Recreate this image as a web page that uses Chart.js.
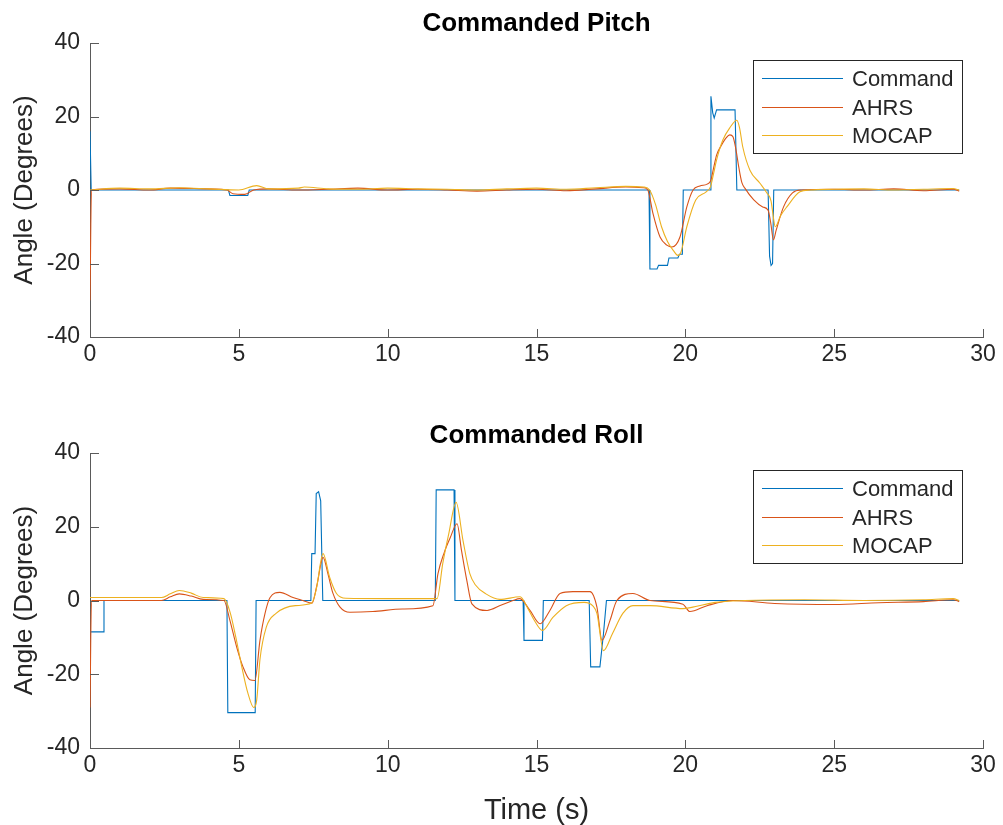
<!DOCTYPE html>
<html>
<head>
<meta charset="utf-8">
<script src="https://cdn.jsdelivr.net/npm/chart.js@4.4.1/dist/chart.umd.min.js"></script>
<style>
  html, body { margin: 0; padding: 0; background: #ffffff; }
  #wrap { position: relative; width: 1003px; height: 825px; background: #ffffff; overflow: hidden; }
  .panel { position: absolute; left: 0; width: 1003px; }
  #p1 { top: 0; height: 400px; }
  #p2 { top: 400px; height: 425px; }
</style>
</head>
<body>
<div id="wrap">
  <div class="panel" id="p1"><canvas id="c1" width="1003" height="400"></canvas></div>
  <div class="panel" id="p2"><canvas id="c2" width="1003" height="425"></canvas></div>
</div>
<script>
// ---------------- Data ----------------
const seriesNames = ['Command', 'AHRS', 'MOCAP'];
const xTicks = [0, 5, 10, 15, 20, 25, 30];
const yTicks = [-40, -20, 0, 20, 40];

// Commanded Pitch
const pitchCmdT = [0, 0.04, 4.65, 4.7, 5.3, 5.35, 18.78, 18.81, 19.05, 19.1, 19.4, 19.45, 19.75, 19.8, 19.9, 19.93, 20.83, 20.86, 20.92, 20.97, 21.05, 21.67, 21.73, 22.78, 22.83, 22.88, 22.93, 22.97, 29.2];
const pitchCmdV = [16, 0, 0, -1.5, -1.5, 0, 0, -21.5, -21.5, -20.5, -20.5, -18.5, -18.5, -17.5, -17.5, 0, 0, 25.5, 21, 19.6, 21.8, 21.8, 0, 0, -18, -20.5, -20, 0, 0];

const pitchAhrsT = [0, 0.05, 1, 2, 2.7, 3.5, 4.6, 4.8, 5.2, 5.5, 6, 7, 8, 9, 10, 11, 12, 13, 14, 15, 16, 17, 18, 18.6, 18.74, 18.91, 19.15, 19.38, 19.55, 19.82, 20.05, 20.26, 20.49, 20.73, 20.85, 20.95, 21.05, 21.2, 21.35, 21.5, 21.6, 21.7, 21.8, 21.9, 22.0, 22.3, 22.6, 22.78, 22.87, 22.96, 23.05, 23.3, 23.6, 23.9, 25, 26, 27, 28, 29, 29.2];
const pitchAhrsV = [-30, 0, 0.3, 0, 0.5, 0.4, 0, -1, -1.2, 0, 0.3, 0, 0.2, 0.5, 0, 0.2, 0, -0.3, 0, 0.2, -0.2, 0.3, 0.8, 0.6, 0, -6.3, -12.8, -15, -15.5, -12.8, -4.6, 0, 1.1, 1.6, 2.5, 6, 9.5, 12, 14, 15, 14.5, 11, 6, 2, 0.5, -2.7, -4.6, -5.5, -9, -13.6, -11, -4.6, -0.8, 0, 0.2, 0, 0.3, -0.2, 0.2, -0.3];

const pitchMocapT = [0, 1, 2, 3, 4, 5, 5.6, 6, 7, 7.2, 8, 9, 10, 11, 12, 13, 14, 15, 16, 17, 18, 18.6, 18.8, 19.0, 19.2, 19.4, 19.6, 19.75, 19.85, 20.05, 20.35, 20.7, 20.85, 20.95, 21.05, 21.26, 21.5, 21.73, 21.82, 21.93, 22.17, 22.5, 22.74, 22.88, 22.95, 23.02, 23.2, 23.41, 23.85, 24.2, 25, 26, 27, 28, 29, 29.2];
const pitchMocapV = [0, 0.5, 0.3, 0.6, 0.3, 0, 1.2, 0.3, 0.5, 0.8, 0.3, 0.2, 0.5, 0.3, 0.2, 0, 0.3, 0.5, 0.2, 0.6, 1, 0.8, 0, -4, -10, -14, -16.5, -17.8, -17, -10, -2.7, -0.5, 1, 4.5, 8.2, 13.6, 17, 19, 17, 11.7, 5.4, 1.9, -0.8, -3, -7, -10, -7, -4.6, -0.5, 0, 0.2, 0.3, 0, 0.2, 0.4, 0];

// Commanded Roll
const rollCmdT = [0, 0.45, 0.47, 4.6, 4.63, 5.55, 5.58, 7.42, 7.45, 7.56, 7.6, 7.68, 7.75, 7.82, 11.6, 11.63, 12.23, 12.26, 14.55, 14.58, 15.2, 15.23, 16.77, 16.82, 17.13, 17.25, 17.35, 29.2];
const rollCmdV = [-8.5, -8.5, 0, 0, -30.4, -30.4, 0, 0, 12.7, 12.7, 29, 29.5, 27, 0, 0, 30, 30, 0, 0, -10.8, -10.8, 0, 0, -18, -18, -9, 0, 0];

const rollAhrsT = [0, 0.05, 1, 2.4, 2.7, 3.0, 3.4, 3.8, 4.5, 4.7, 4.93, 5.14, 5.37, 5.54, 5.71, 5.88, 6.05, 6.38, 6.82, 7.15, 7.46, 7.62, 7.83, 8.0, 8.16, 8.4, 8.73, 9.5, 10.5, 11.52, 11.69, 11.9, 12.1, 12.33, 12.48, 12.66, 12.83, 13.34, 13.8, 14.21, 14.44, 14.78, 15.12, 15.45, 15.79, 16.22, 16.8, 17.03, 17.2, 17.47, 17.7, 18.24, 18.81, 19.92, 20.15, 20.73, 21.6, 23, 25, 26.5, 28, 29, 29.2];
const rollAhrsV = [-29, 0, 0, 0, 1, 1.8, 1.2, 0.3, 0, -5.4, -12.7, -18, -21.5, -21.7, -10.8, -3.5, 0.8, 2.2, 0.8, 0, -0.7, 4, 11.7, 7, 2, -1.8, -3.2, -3, -2.3, -1.4, 7.3, 13, 17, 20.8, 13.6, 5.4, -0.9, -2.7, -1.3, 0, 0.5, -2.7, -6.3, -2.7, 1.9, 2.4, 2.4, -1.8, -10.8, -5.4, 0, 1.9, 0, -1, -3, -1.4, 0, -0.8, -1.1, -0.6, -0.3, 0.2, -0.3];

const rollMocapT = [0, 1, 2.4, 2.7, 3.0, 3.4, 3.8, 4.5, 4.7, 4.9, 5.1, 5.3, 5.5, 5.6, 5.71, 5.92, 6.25, 6.9, 7.45, 7.6, 7.83, 8.05, 8.28, 8.6, 10, 11.5, 11.66, 11.85, 12.05, 12.3, 12.53, 12.76, 12.95, 13.3, 13.77, 14.45, 14.7, 14.9, 15.2, 15.55, 16.0, 16.6, 16.9, 17.03, 17.25, 17.55, 17.9, 18.24, 18.81, 19.92, 20.25, 21.0, 22, 24, 26, 28, 29, 29.2];
const rollMocapV = [0.8, 0.8, 0.8, 1.8, 2.7, 2, 0.8, 0.5, -3, -10, -18, -25, -29, -27, -16, -7.3, -3.5, -1.4, -0.7, 3, 12.7, 6.3, 1.9, 0.6, 0.5, 0.5, 0.5, 10, 18, 26.6, 16.3, 7.3, 4.2, 1.8, 0.3, 1, -2, -5, -8.1, -4.6, -1.4, -0.5, -1.5, -3.5, -13.6, -9, -3.5, -1.4, -1.4, -2.2, -1.8, -0.5, 0, 0.2, 0, 0.2, 0.5, 0];

// ---------------- Styling ----------------
const seriesColors = ['#0072BD', '#D95319', '#EDB120'];
const FONT = "'Liberation Sans', Arial, Helvetica, sans-serif";
const TEXT = '#262626';
const AXIS = '#5a5a5a';

Chart.defaults.font.family = FONT;
Chart.defaults.color = TEXT;

function pts(ts, vs) { return ts.map((t, i) => ({ x: t, y: vs[i] })); }

function makeDatasets(cmd, ahrs, mocap) {
  const list = [cmd, ahrs, mocap];
  return list.map((d, i) => ({
    label: seriesNames[i],
    data: pts(d[0], d[1]),
    borderColor: seriesColors[i],
    backgroundColor: seriesColors[i],
    borderWidth: 1.1,
    pointRadius: 0,
    fill: false,
    order: 3 - i,
    tension: 0,
    cubicInterpolationMode: i === 0 ? 'default' : 'monotone'
  }));
}

// Plugin: MATLAB-style inward tick marks, axes title and boxed legend
const matlabDecor = {
  id: 'matlabDecor',
  afterDraw(chart, args, opts) {
    const ctx = chart.ctx;
    const a = chart.chartArea;
    const xs = chart.scales.x, ys = chart.scales.y;
    ctx.save();
    // inward ticks
    ctx.strokeStyle = AXIS;
    ctx.lineWidth = 1;
    ctx.beginPath();
    xTicks.forEach(v => {
      const px = Math.round(xs.getPixelForValue(v)) + 0.5;
      ctx.moveTo(px, a.bottom);
      ctx.lineTo(px, a.bottom - 8);
    });
    yTicks.forEach(v => {
      const py = Math.round(ys.getPixelForValue(v)) + 0.5;
      ctx.moveTo(a.left, py);
      ctx.lineTo(a.left + 9, py);
    });
    ctx.stroke();
    // title
    ctx.fillStyle = '#000000';
    ctx.font = 'bold 26px ' + FONT;
    ctx.textAlign = 'center';
    ctx.textBaseline = 'alphabetic';
    ctx.fillText(opts.title, (a.left + a.right) / 2, a.top - opts.titleGap);
    // legend
    const bw = 209, bh = 93;
    const bx = a.right - 21 - bw;
    const by = a.top + 17;
    ctx.fillStyle = '#ffffff';
    ctx.fillRect(bx, by, bw, bh);
    ctx.strokeStyle = '#262626';
    ctx.lineWidth = 1;
    ctx.strokeRect(Math.round(bx) + 0.5, Math.round(by) + 0.5, bw, bh);
    ctx.font = '22px ' + FONT;
    ctx.textAlign = 'left';
    ctx.textBaseline = 'middle';
    chart.data.datasets.forEach((ds, i) => {
      const ly = Math.round(by + 18 + i * 28.5) + 0.5;
      ctx.strokeStyle = ds.borderColor;
      ctx.lineWidth = 1.1;
      ctx.beginPath();
      ctx.moveTo(bx + 9, ly);
      ctx.lineTo(bx + 90, ly);
      ctx.stroke();
      ctx.fillStyle = TEXT;
      ctx.fillText(ds.label, bx + 99, ly + 1);
    });
    ctx.restore();
  }
};

function makeChart(canvasId, title, titleGap, datasets, topPad, xHeight, xTitle) {
  return new Chart(document.getElementById(canvasId), {
    type: 'line',
    data: { datasets },
    plugins: [matlabDecor],
    options: {
      responsive: false,
      animation: false,
      devicePixelRatio: 1,
      layout: { padding: { top: topPad, right: 20, left: 0, bottom: 0 } },
      plugins: {
        legend: { display: false },
        tooltip: { enabled: false },
        title: { display: false },
        matlabDecor: { title, titleGap }
      },
      scales: {
        x: {
          type: 'linear',
          min: 0, max: 30,
          afterBuildTicks: s => { s.ticks = xTicks.map(v => ({ value: v })); },
          ticks: { font: { size: 23 }, color: TEXT, padding: 4, maxRotation: 0, autoSkip: false },
          grid: { display: false, drawTicks: false },
          border: { display: true, color: AXIS, width: 1 },
          title: xTitle ? { display: true, text: xTitle, font: { size: 29, lineHeight: 1 }, color: TEXT, padding: { top: 0, bottom: 0 } } : { display: false },
          afterFit: s => { s.height = xHeight; }
        },
        y: {
          type: 'linear',
          min: -40, max: 40,
          afterBuildTicks: s => { s.ticks = yTicks.map(v => ({ value: v })); },
          ticks: { font: { size: 23 }, color: TEXT, padding: 10 },
          grid: { display: false, drawTicks: false },
          border: { display: true, color: AXIS, width: 1 },
          title: { display: true, text: 'Angle (Degrees)', font: { size: 26 }, color: TEXT, padding: { top: 9, bottom: 0 } },
          afterFit: s => { s.width = 90; }
        }
      }
    }
  });
}

makeChart('c1', 'Commanded Pitch', 12,
  makeDatasets([pitchCmdT, pitchCmdV], [pitchAhrsT, pitchAhrsV], [pitchMocapT, pitchMocapV]),
  43, 63, null);
makeChart('c2', 'Commanded Roll', 10,
  makeDatasets([rollCmdT, rollCmdV], [rollAhrsT, rollAhrsV], [rollMocapT, rollMocapV]),
  53, 77, 'Time (s)');
</script>
</body>
</html>
